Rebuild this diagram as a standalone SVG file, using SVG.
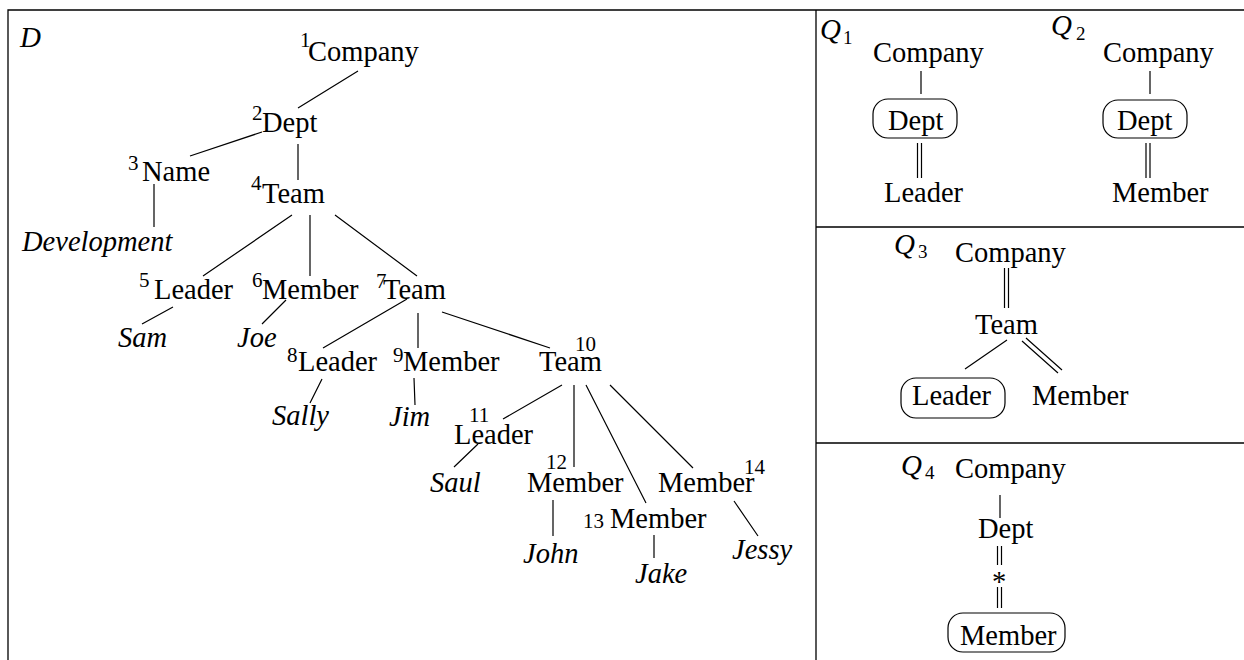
<svg xmlns="http://www.w3.org/2000/svg" width="1244" height="660" viewBox="0 0 1244 660">
<style>
.t{font-family:"Liberation Serif","Times New Roman",serif;font-size:28.5px;fill:#000}
.i{font-family:"Liberation Serif","Times New Roman",serif;font-size:28.5px;font-style:italic;fill:#000}
.s{font-family:"Liberation Serif","Times New Roman",serif;font-size:21px;fill:#000}
.q{font-family:"Liberation Serif","Times New Roman",serif;font-size:29px;font-style:italic;fill:#000}
.qs{font-family:"Liberation Serif","Times New Roman",serif;font-size:19px;fill:#000}
.ln{stroke:#000;stroke-width:1.2;fill:none}
.fr{stroke:#000;stroke-width:1.3;fill:none}
.box{stroke:#000;stroke-width:1.2;fill:none}
</style>
<g id="frame">
<path class="fr" d="M8,660 V10 H1244 M816,10 V660 M816,227 H1244 M816,443 H1244"/>
</g>
<g id="connectors">
<path class="ln" d="M358,71 L298,108 M262,132 L190,156 M298,144 L298,180 M154,184 L154,227 M292,215 L203,276 M310,215 L310,276 M335,215 L417,276 M173,307 L142,324 M286,300 L262,324 M407,299 L323,348 M418,313 L418,348 M442,312 L550,348 M322,379 L310,403 M414,378 L415,405 M562,385 L503,419 M574,385 L574,467 M586,385 L646,503 M610,385 L693,468 M478,444 L454,467 M553,500 L553,536 M654,535 L654,558 M734,501 L758,536"/>
<path class="ln" d="M921,71 V94 M917.5,143 V178 M921.5,143 V178 M1150,71 V94 M1146,143 V178 M1150,143 V178"/>
<path class="ln" d="M1004.5,268 V308 M1008.5,268 V308 M1007,340 L965,369 M1022,341 L1058,373 M1026,338 L1062,370"/>
<path class="ln" d="M1000,495 V518 M997.5,546 V565 M1001.5,546 V565 M997.5,587 V608 M1001.5,587 V608"/>
</g>
<g id="label-D"><text class="i" x="20" y="47" style="font-size:29px">D</text></g>
<g id="n1"><text class="s" x="300" y="47">1</text><text class="t" x="308" y="61">Company</text></g>
<g id="n2"><text class="s" x="252" y="120">2</text><text class="t" x="262" y="132">Dept</text></g>
<g id="n3"><text class="s" x="128" y="170">3</text><text class="t" x="142" y="181">Name</text></g>
<g id="v-development"><text class="i" x="22" y="251">Development</text></g>
<g id="n4"><text class="s" x="251" y="190">4</text><text class="t" x="262" y="203">Team</text></g>
<g id="n5"><text class="s" x="139" y="287">5</text><text class="t" x="154" y="299">Leader</text></g>
<g id="n6"><text class="s" x="252" y="287">6</text><text class="t" x="262" y="299">Member</text></g>
<g id="n7"><text class="s" x="376" y="288">7</text><text class="t" x="383" y="299">Team</text></g>
<g id="v-sam"><text class="i" x="118" y="347">Sam</text></g>
<g id="v-joe"><text class="i" x="237" y="347">Joe</text></g>
<g id="n8"><text class="s" x="287" y="362">8</text><text class="t" x="298" y="371">Leader</text></g>
<g id="n9"><text class="s" x="393" y="362">9</text><text class="t" x="403" y="371">Member</text></g>
<g id="n10"><text class="s" x="575" y="351">10</text><text class="t" x="539" y="371">Team</text></g>
<g id="v-sally"><text class="i" x="272" y="425">Sally</text></g>
<g id="v-jim"><text class="i" x="389" y="426">Jim</text></g>
<g id="n11"><text class="s" x="469" y="422">11</text><text class="t" x="454" y="444">Leader</text></g>
<g id="v-saul"><text class="i" x="430" y="492">Saul</text></g>
<g id="n12"><text class="s" x="546" y="469">12</text><text class="t" x="527" y="492">Member</text></g>
<g id="v-john"><text class="i" x="523" y="563">John</text></g>
<g id="n13"><text class="s" x="583" y="528">13</text><text class="t" x="610" y="528">Member</text></g>
<g id="v-jake"><text class="i" x="635" y="583">Jake</text></g>
<g id="n14"><text class="t" x="658" y="492">Member</text><text class="s" x="744" y="474">14</text></g>
<g id="v-jessy"><text class="i" x="732" y="559">Jessy</text></g>
<g id="q1">
<text class="q" x="820" y="39">Q</text><text class="qs" x="843" y="44">1</text>
<text class="t" x="873" y="62">Company</text>
<rect class="box" x="873" y="99" width="84" height="39" rx="15"/>
<text class="t" x="888" y="130">Dept</text>
<text class="t" x="884" y="202">Leader</text>
</g>
<g id="q2">
<text class="q" x="1051" y="35">Q</text><text class="qs" x="1076" y="40">2</text>
<text class="t" x="1103" y="62">Company</text>
<rect class="box" x="1103" y="100" width="84" height="38" rx="15"/>
<text class="t" x="1117" y="130">Dept</text>
<text class="t" x="1112" y="202">Member</text>
</g>
<g id="q3">
<text class="q" x="894" y="254">Q</text><text class="qs" x="918" y="258">3</text>
<text class="t" x="955" y="262">Company</text>
<text class="t" x="975" y="334">Team</text>
<rect class="box" x="901" y="378" width="104" height="40" rx="15"/>
<text class="t" x="912" y="405">Leader</text>
<text class="t" x="1032" y="405">Member</text>
</g>
<g id="q4">
<text class="q" x="901" y="475">Q</text><text class="qs" x="925" y="479">4</text>
<text class="t" x="955" y="478">Company</text>
<text class="t" x="978" y="538">Dept</text>
<text class="t" x="999" y="591" text-anchor="middle">*</text>
<rect class="box" x="948" y="613" width="117" height="39" rx="15"/>
<text class="t" x="960" y="645">Member</text>
</g>
</svg>
